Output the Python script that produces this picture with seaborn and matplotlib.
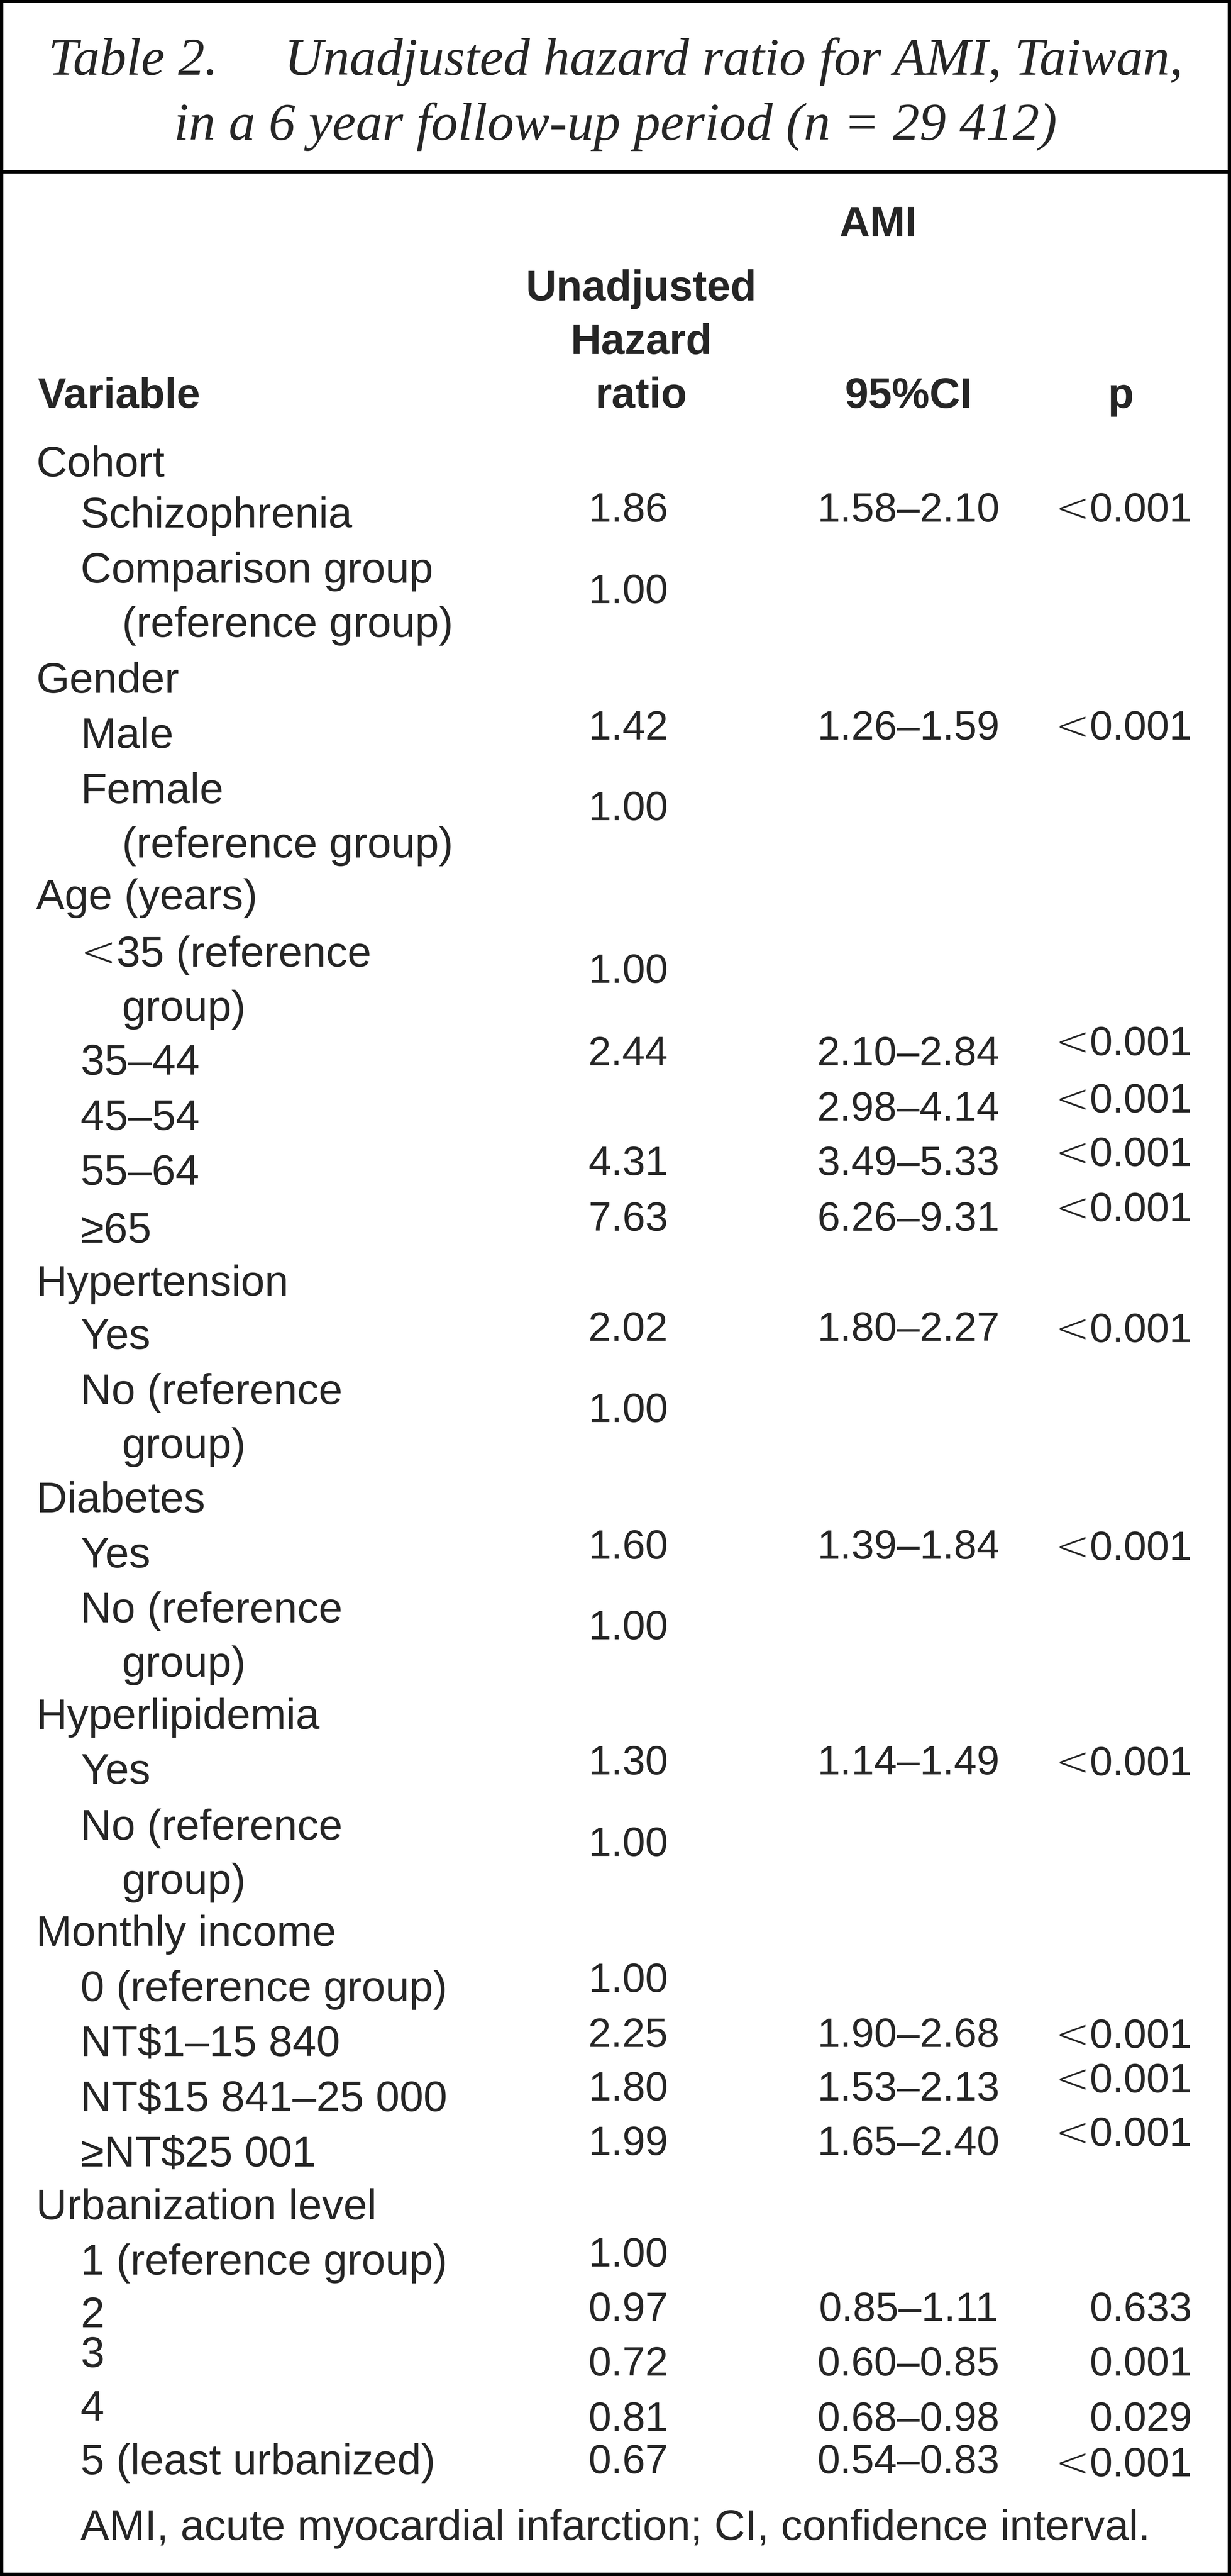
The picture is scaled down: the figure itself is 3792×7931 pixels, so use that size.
import numpy as np
import pandas as pd
import matplotlib
matplotlib.use("Agg")
import matplotlib.pyplot as plt
import seaborn as sns
from matplotlib.patches import Rectangle

# ---- table content ----
title_lines = [
    "Table 2.     Unadjusted hazard ratio for AMI, Taiwan,",
    "in a 6 year follow-up period (n = 29 412)",
]
header_group = "AMI"
header_cols = ["Variable", "Unadjusted\nHazard\nratio", "95%CI", "p"]

variables = [
    "Cohort", "Schizophrenia", "Comparison group\n(reference group)",
    "Gender", "Male", "Female\n(reference group)",
    "Age (years)", "<35 (reference\ngroup)", "35–44", "45–54", "55–64", "≥65",
    "Hypertension", "Yes", "No (reference\ngroup)",
    "Diabetes", "Yes", "No (reference\ngroup)",
    "Hyperlipidemia", "Yes", "No (reference\ngroup)",
    "Monthly income", "0 (reference group)", "NT$1–15 840", "NT$15 841–25 000", "≥NT$25 001",
    "Urbanization level", "1 (reference group)", "2", "3", "4", "5 (least urbanized)",
]
is_group = [
    1, 0, 0,
    1, 0, 0,
    1, 0, 0, 0, 0, 0,
    1, 0, 0,
    1, 0, 0,
    1, 0, 0,
    1, 0, 0, 0, 0,
    1, 0, 0, 0, 0, 0,
]
hazard_ratio = [
    np.nan, 1.86, 1.00,
    np.nan, 1.42, 1.00,
    np.nan, 1.00, 2.44, np.nan, 4.31, 7.63,
    np.nan, 2.02, 1.00,
    np.nan, 1.60, 1.00,
    np.nan, 1.30, 1.00,
    np.nan, 1.00, 2.25, 1.80, 1.99,
    np.nan, 1.00, 0.97, 0.72, 0.81, 0.67,
]
ci_low = [
    np.nan, 1.58, np.nan,
    np.nan, 1.26, np.nan,
    np.nan, np.nan, 2.10, 2.98, 3.49, 6.26,
    np.nan, 1.80, np.nan,
    np.nan, 1.39, np.nan,
    np.nan, 1.14, np.nan,
    np.nan, np.nan, 1.90, 1.53, 1.65,
    np.nan, np.nan, 0.85, 0.60, 0.68, 0.54,
]
ci_high = [
    np.nan, 2.10, np.nan,
    np.nan, 1.59, np.nan,
    np.nan, np.nan, 2.84, 4.14, 5.33, 9.31,
    np.nan, 2.27, np.nan,
    np.nan, 1.84, np.nan,
    np.nan, 1.49, np.nan,
    np.nan, np.nan, 2.68, 2.13, 2.40,
    np.nan, np.nan, 1.11, 0.85, 0.98, 0.83,
]
p_value = [
    "", "<0.001", "",
    "", "<0.001", "",
    "", "", "<0.001", "<0.001", "<0.001", "<0.001",
    "", "<0.001", "",
    "", "<0.001", "",
    "", "<0.001", "",
    "", "", "<0.001", "<0.001", "<0.001",
    "", "", "0.633", "0.001", "0.029", "<0.001",
]
footnote = "AMI, acute myocardial infarction; CI, confidence interval."

df = pd.DataFrame({
    "Variable": variables, "group": is_group, "HR": hazard_ratio,
    "lo": ci_low, "hi": ci_high, "p": p_value,
})

# ---- layout (pixel coords of the 3792 x 7932 page) ----
W, H = 3792, 7932
label_y = [1467, 1624, 1794, 2133, 2303, 2473, 2800, 2976, 3309, 3479, 3648, 3826,
           3989, 4153, 4323, 4656, 4826, 4995, 5323, 5492, 5664, 5991, 6161, 6330,
           6500, 6670, 6833, 7003, 7165, 7288, 7452, 7618]
value_y = [0, 1606, 1857, 0, 2277, 2525, 0, 3026, 3280, 3450, 3618, 3789,
           0, 4128, 4378, 0, 4799, 5047, 0, 5463, 5714, 0, 6133, 6302,
           6467, 6635, 0, 6978, 7146, 7314, 7484, 7615]
p_y = [0, 1606, 0, 0, 2277, 0, 0, 0, 3249, 3425, 3590, 3760,
       0, 4132, 0, 0, 4803, 0, 0, 5466, 0, 0, 0, 6305,
       6442, 6607, 0, 0, 7146, 7314, 7484, 7624]
line_step = 167
x_group, x_item, x_cont = 111, 248, 376
x_hr, x_ci, x_p = 1935, 2798, 3672

sns.set_theme(style="white")
plt.rcParams["font.family"] = ["Liberation Sans", "DejaVu Sans"]

dpi = 100
fig = plt.figure(figsize=(W / dpi, H / dpi), dpi=dpi)
ax = fig.add_axes([0, 0, 1, 1])
ax.set_xlim(0, W)
ax.set_ylim(H, 0)
ax.axis("off")
renderer = fig.canvas.get_renderer()

label_size = 95
value_size = 91
head_size = 94
serif = ["Liberation Serif", "DejaVu Serif"]
lt_font = dict(family=["DejaVu Sans"], weight=200)


def put(x, y, s, ha="left", size=label_size, **kw):
    """Draw text; a leading '<' is set as a wider, lighter math-like sign."""
    if not s.startswith("<"):
        return ax.text(x, y, s, ha=ha, va="baseline", fontsize=size, **kw)
    rest = s[1:]
    gap = 0
    if ha == "right":
        t = ax.text(x, y, rest, ha="right", va="baseline", fontsize=size, **kw)
        w = t.get_window_extent(renderer).width
        ax.text(x - w - gap, y, "<", ha="right", va="baseline", fontsize=size, **lt_font)
    else:
        lt = ax.text(x, y, "<", ha="left", va="baseline", fontsize=size, **lt_font)
        w = lt.get_window_extent(renderer).width
        ax.text(x + w + gap, y, rest, ha="left", va="baseline", fontsize=size, **kw)


# frame and separator
ax.add_patch(Rectangle((5, 5), W - 10, H - 10, fill=False, lw=7.5, ec="black"))
ax.plot([0, W], [530, 530], color="black", lw=7.5, solid_capstyle="butt")

# title
for ty, line in zip([230, 430], title_lines):
    ax.text(W / 2, ty, line, ha="center", va="baseline", fontsize=118,
            style="italic", family=serif)

# column headers
put(2705, 728, header_group, ha="center", size=head_size, weight="bold")
put(x_group + 5, 1256, header_cols[0], size=head_size, weight="bold")
for k, part in enumerate(header_cols[1].split("\n")):
    put(1975, 925 + k * 165, part, ha="center", size=head_size, weight="bold")
put(x_ci, 1256, header_cols[2], ha="center", size=head_size, weight="bold")
put(3452, 1256, header_cols[3], ha="center", size=head_size, weight="bold")

# body rows
for i, row in df.iterrows():
    parts = row["Variable"].split("\n")
    x0 = x_group if row["group"] else x_item
    for k, part in enumerate(parts):
        put(x0 if k == 0 else x_cont, label_y[i] + k * line_step, part)
    if not np.isnan(row["HR"]):
        put(x_hr, value_y[i], f"{row['HR']:.2f}", ha="center", size=value_size)
    if not np.isnan(row["lo"]):
        put(x_ci, value_y[i], f"{row['lo']:.2f}–{row['hi']:.2f}", ha="center", size=value_size)
    if row["p"]:
        put(x_p, p_y[i], row["p"], ha="right", size=value_size)

put(W / 2, 7820, footnote, ha="center")

fig.savefig("out.png", dpi=dpi, facecolor="white")
